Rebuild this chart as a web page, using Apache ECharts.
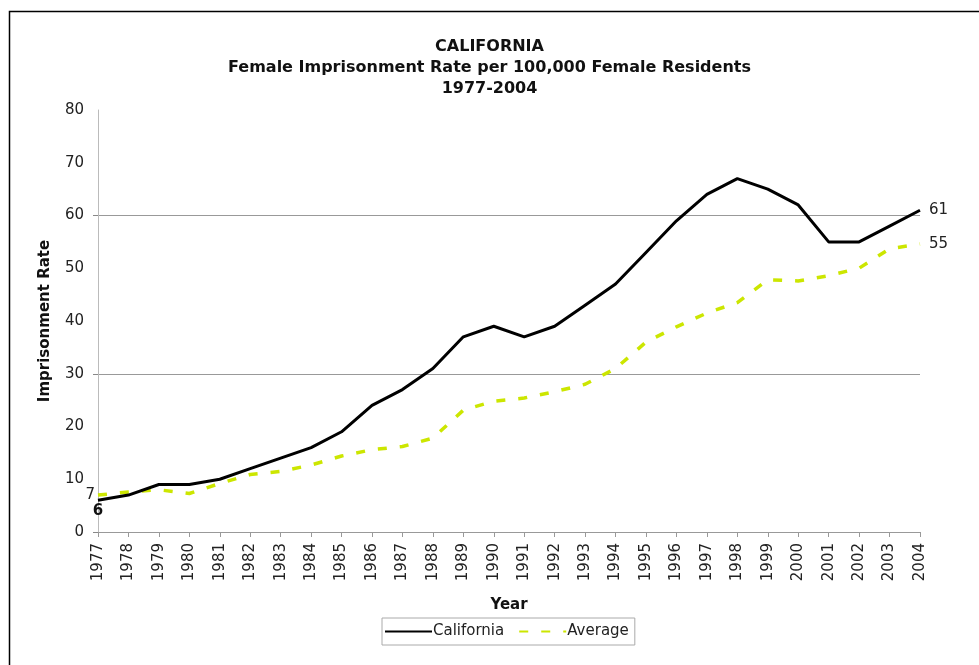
<!DOCTYPE html>
<html>
<head>
<meta charset="utf-8">
<script src="https://cdn.jsdelivr.net/npm/echarts@6/dist/echarts.min.js"></script>
<style>
html,body{margin:0;padding:0;background:#fff;}
#chart{width:979px;height:665px;}
</style>
</head>
<body>
<div id="chart"></div>
<script>
const years = ['1977','1978','1979','1980','1981','1982','1983','1984','1985','1986','1987','1988','1989','1990','1991','1992','1993','1994','1995','1996','1997','1998','1999','2000','2001','2002','2003','2004'];
const california = [6,7,9,9,10,12,14,16,19,24,27,31,37,39,37,39,43,47,53,59,64,67,65,62,55,55,58,61];
const average = [7,7.6,8,7.3,9.2,10.9,11.5,12.7,14.4,15.6,16.2,17.8,23.1,24.8,25.4,26.6,28,31,36,38.9,41.5,43.5,47.8,47.6,48.6,50,53.7,54.6];
const yTicks = [0,10,20,30,40,50,60,70,80];
const gridValues = [0,30,60];

const FONT = 'DejaVu Sans';
const chart = echarts.init(document.getElementById('chart'));

function firstPoint(name, arr, label) {
  return {
    symbol: 'circle', symbolSize: 0, silent: true,
    data: [{name: name, coord: [years[0], arr[0]], value: Math.round(arr[0]), label: label}]
  };
}

chart.setOption({
  backgroundColor: '#fff',
  animation: false,
  textStyle: {fontFamily: FONT},
  graphic: [{
    type: 'rect', left: 7, top: 9,
    shape: {width: 1000, height: 700},
    style: {fill: 'none', stroke: '#000', lineWidth: 1.5},
    silent: true
  }],
  title: {
    text: 'CALIFORNIA\nFemale Imprisonment Rate per 100,000 Female Residents\n1977-2004',
    left: 'center', top: 31,
    textStyle: {fontFamily: FONT, fontSize: 16, fontWeight: 'bold', color: '#111', lineHeight: 21}
  },
  legend: {
    left: 382, top: 618,
    itemWidth: 47, itemHeight: 12, itemGap: 14,
    padding: [6, 6, 6, 2],
    borderColor: '#aaa', borderWidth: 1,
    itemStyle: {opacity: 0, borderWidth: 0},
    textStyle: {fontFamily: FONT, fontSize: 15, color: '#222', padding: [0, 0, 0, -4]},
    data: ['California', 'Average']
  },
  grid: {left: 98, right: 59, top: 110, bottom: 133, containLabel: false},
  xAxis: {
    type: 'category', data: years, boundaryGap: false,
    name: 'Year', nameLocation: 'middle', nameGap: 66,
    nameTextStyle: {fontFamily: FONT, fontSize: 15, fontWeight: 'bold', color: '#111'},
    axisLine: {lineStyle: {color: '#999', width: 1}},
    axisTick: {show: true, length: 5, alignWithLabel: true, lineStyle: {color: '#999'}},
    axisLabel: {rotate: 90, interval: 0, margin: 11, fontFamily: FONT, fontSize: 15, color: '#222'},
    splitLine: {show: false}
  },
  yAxis: [{
    type: 'value', min: yTicks[0], max: yTicks[yTicks.length - 1], interval: 10, position: 'left',
    name: 'Imprisonment Rate', nameLocation: 'middle', nameGap: 45,
    nameTextStyle: {fontFamily: FONT, fontSize: 15, fontWeight: 'bold', color: '#111'},
    axisLine: {show: true, lineStyle: {color: '#bbb', width: 1}},
    axisTick: {show: false},
    axisLabel: {margin: 14, fontFamily: FONT, fontSize: 15, color: '#222'},
    splitLine: {show: false}
  }, {
    type: 'value', min: yTicks[0], max: yTicks[yTicks.length - 1], interval: 30, position: 'left', offset: 0,
    axisLine: {show: false},
    axisTick: {show: true, length: 5, lineStyle: {color: '#888'}, customValues: gridValues},
    axisLabel: {show: false},
    splitLine: {show: true, showMinLine: false, lineStyle: {color: '#999', width: 1}}
  }],
  series: [{
    name: 'Average', type: 'line', yAxisIndex: 0,
    data: average,
    showSymbol: false, symbol: 'none',
    lineStyle: {color: '#cce600', width: 3.5, type: [9, 13]},
    itemStyle: {color: '#cce600'},
    endLabel: {show: true, distance: 9, formatter: p => String(Math.round(p.value)), fontFamily: FONT, fontSize: 15, color: '#222'},
    markPoint: firstPoint('a0', average, {show: true, position: 'left', distance: 3, formatter: '{c}', fontFamily: FONT, fontSize: 15, color: '#222'}),
    z: 2
  }, {
    name: 'California', type: 'line', yAxisIndex: 0,
    data: california,
    showSymbol: false, symbol: 'none',
    lineStyle: {color: '#000', width: 3},
    itemStyle: {color: '#000'},
    endLabel: {show: true, distance: 9, formatter: p => String(Math.round(p.value)), fontFamily: FONT, fontSize: 15, color: '#222'},
    markPoint: firstPoint('c0', california, {show: true, position: 'bottom', distance: 3, formatter: '{c}', fontFamily: FONT, fontSize: 15, fontWeight: 'bold', color: '#111'}),
    z: 3
  }]
});
</script>
</body>
</html>
